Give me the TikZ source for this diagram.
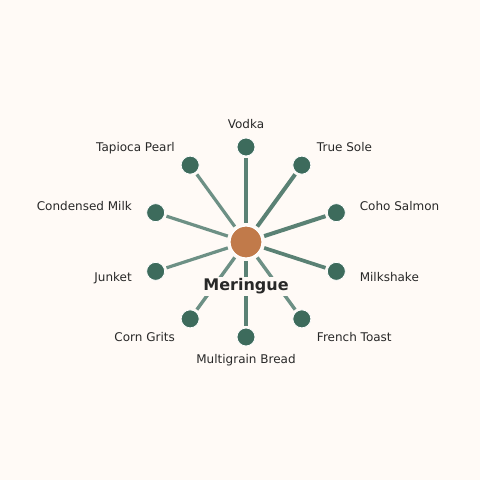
\documentclass[tikz,border=0pt]{standalone}
\usepackage{fontspec}
\setmainfont{DejaVu Sans}
\definecolor{G}{RGB}{61,107,92}
\definecolor{O}{RGB}{193,122,74}
\definecolor{P}{RGB}{255,250,246}
\definecolor{T}{RGB}{40,40,40}
\tikzset{
  hub/.style={circle, fill=O, draw=white, line width=1.2pt, minimum size=32pt, inner sep=0pt},
  leaf/.style={circle, fill=G, draw=white, line width=0.8pt, minimum size=18pt, inner sep=0pt},
  spoke/.style={shorten <=2.5pt, shorten >=2pt},
  heavy/.style={spoke, color=G!85!white, line width=4pt},
  light/.style={spoke, color=G!75!white, line width=3.2pt},
  lbl/.style={text=T, font=\fontsize{12}{14}\selectfont, inner sep=0pt}
}
\begin{document}
\begin{tikzpicture}
  \fill[P] (-246pt,-238pt) rectangle (234pt,242pt);
  \useasboundingbox (-246pt,-238pt) rectangle (234pt,242pt);
  % hub and leaves
  \node[hub] (mer) at (0,0) {};
  \node[leaf] (vod) at (90:95pt) {};
  \node[leaf] (sol) at (54:95pt) {};
  \node[leaf] (coh) at (18:95pt) {};
  \node[leaf] (mil) at (-18:95pt) {};
  \node[leaf] (fre) at (-54:95pt) {};
  \node[leaf] (mul) at (-90:95pt) {};
  \node[leaf] (cor) at (-126:95pt) {};
  \node[leaf] (jun) at (-162:95pt) {};
  \node[leaf] (con) at (162:95pt) {};
  \node[leaf] (tap) at (126:95pt) {};
  % spokes
  \draw[heavy] (mer) -- (vod);
  \draw[heavy] (mer) -- (sol);
  \draw[heavy] (mer) -- (coh);
  \draw[heavy, line width=3.7pt] (mer) -- (mil);
  \draw[light, line width=3.4pt] (mer) -- (fre);
  \draw[heavy, line width=3.5pt] (mer) -- (mul);
  \draw[light, line width=3.4pt] (mer) -- (cor);
  \draw[light] (mer) -- (jun);
  \draw[light] (mer) -- (con);
  \draw[light] (mer) -- (tap);
  % labels
  \node[fill=P, text=T, inner sep=2pt, anchor=base, font=\fontsize{16}{19}\selectfont\bfseries] (merl) at (0,-48.7pt) {Meringue};
  \node[lbl, anchor=base] (vodl) at (0,113.7pt) {Vodka};
  \node[lbl, anchor=base west] (soll) at (70.8pt,90.7pt) {True Sole};
  \node[lbl, anchor=base west] (cohl) at (113.6pt,31.8pt) {Coho Salmon};
  \node[lbl, anchor=base west] (mill) at (113.6pt,-39.7pt) {Milkshake};
  \node[lbl, anchor=base west] (frel) at (70.8pt,-99pt) {French Toast};
  \node[lbl, anchor=base] (mull) at (0,-121.7pt) {Multigrain Bread};
  \node[lbl, anchor=base east] (corl) at (-71pt,-99pt) {Corn Grits};
  \node[lbl, anchor=base east] (junl) at (-114pt,-39.7pt) {Junket};
  \node[lbl, anchor=base east] (conl) at (-114pt,31.8pt) {Condensed Milk};
  \node[lbl, anchor=base east] (tapl) at (-71pt,90.7pt) {Tapioca Pearl};
\end{tikzpicture}
\end{document}
